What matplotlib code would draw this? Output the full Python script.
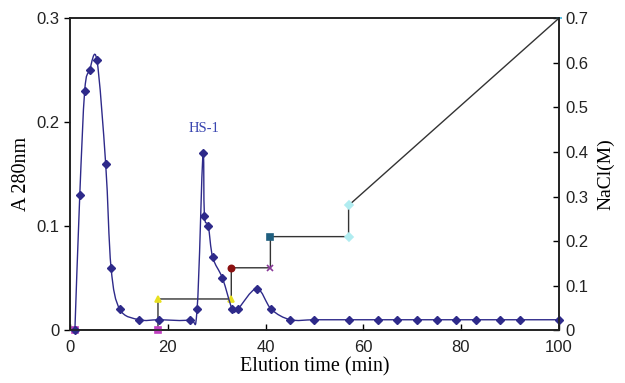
import numpy as np
import matplotlib
matplotlib.use('Agg')
import matplotlib.pyplot as plt
from matplotlib.path import Path
from matplotlib.patches import PathPatch

# Absorption bei 280 nm
t_abs = [1, 2, 3, 4, 5.5, 7.3, 8.4, 10.2, 14.2, 18.2, 24.5, 26, 27.2, 27.5, 28.3, 29.2, 31.2,
         33.2, 34.3, 38.2, 41.2, 45.1, 50, 57, 63, 67, 71, 75, 79, 83, 88, 92, 100]
a280 = [0.0, 0.13, 0.23, 0.25, 0.26, 0.16, 0.06, 0.02, 0.01, 0.01, 0.01, 0.02, 0.17, 0.11, 0.10,
        0.07, 0.05, 0.02, 0.02, 0.04, 0.02, 0.01, 0.01, 0.01, 0.01, 0.01, 0.01, 0.01, 0.01, 0.01,
        0.01, 0.01, 0.01]

# NaCl-Gradient (Stufen + linear)
t_salt = [1, 18, 18, 33, 33, 41, 41, 57, 57, 100]
nacl = [0.0, 0.0, 0.07, 0.07, 0.14, 0.14, 0.21, 0.21, 0.28, 0.70]

salt_marker = ['s', 's', '^', '^', 'o', 'x', 's', 'D', 'D', '_']
salt_color = ['#c040c0', '#c040c0', '#e8e020', '#e8e020', '#8b1010', '#8a3a9a', '#1f5f7f',
              '#b0ecf0', '#b0ecf0', '#40b8e0']

blue = '#2e2a8a'


def smooth_path(xs, ys):
    # Excel-artige Glaettung (Catmull-Rom als Bezier)
    pts = np.column_stack([xs, ys])
    verts = [pts[0]]
    codes = [Path.MOVETO]
    n = len(pts)
    for i in range(n - 1):
        p0 = pts[i - 1] if i > 0 else pts[i]
        p1 = pts[i]
        p2 = pts[i + 1]
        p3 = pts[i + 2] if i + 2 < n else pts[i + 1]
        c1 = p1 + (p2 - p0) / 6.0
        c2 = p2 - (p3 - p1) / 6.0
        verts += [c1, c2, p2]
        codes += [Path.CURVE4] * 3
    return Path(verts, codes)


fig, ax = plt.subplots(figsize=(6.25, 3.83), dpi=100)
fig.subplots_adjust(left=0.112, right=0.894, bottom=0.138, top=0.952)
ax2 = ax.twinx()

ax.set_zorder(ax2.get_zorder() + 1)
ax.patch.set_visible(False)

patch = PathPatch(smooth_path(t_abs, a280), facecolor='none', edgecolor=blue, lw=1.0)
ax.add_patch(patch)
ax.plot(t_abs, a280, linestyle='none', marker='D', color=blue, markersize=4.5, clip_on=False)

ax2.plot(t_salt, nacl, color='#333333', lw=1.0, zorder=2)
for xx, yy, mk, c in zip(t_salt, nacl, salt_marker, salt_color):
    ax2.plot(xx, yy, marker=mk, color=c, markersize=4.5, markeredgewidth=1.2,
             linestyle='none', clip_on=False, zorder=3)

ax.set_xlim(0, 100)
ax.set_ylim(0, 0.3)
ax2.set_ylim(0, 0.7)
ax.set_xticks([0, 20, 40, 60, 80, 100])
ax.set_yticks([0, 0.1, 0.2, 0.3])
ax.set_yticklabels(['0', '0.1', '0.2', '0.3'])
ax2.set_yticks([0, 0.1, 0.2, 0.3, 0.4, 0.5, 0.6, 0.7])
ax2.set_yticklabels(['0', '0.1', '0.2', '0.3', '0.4', '0.5', '0.6', '0.7'])

tickfont = 'Liberation Sans'
for lab in ax.get_xticklabels() + ax.get_yticklabels() + ax2.get_yticklabels():
    lab.set_fontfamily(tickfont)
    lab.set_fontsize(12)
    lab.set_color('#222222')

ax.tick_params(axis='x', direction='in', length=4, width=1, pad=7)
ax.tick_params(axis='y', direction='out', length=4, width=1)
ax2.tick_params(axis='y', direction='in', length=4, width=1, pad=5)
for a in (ax, ax2):
    for sp in a.spines.values():
        sp.set_linewidth(1.2)
        sp.set_color('#222222')

ax.set_xlabel('Elution time (min)', family='Liberation Serif', fontsize=14.5, labelpad=2)
ax.set_ylabel('A 280nm', family='Liberation Serif', fontsize=14.5, labelpad=4)
ax2.set_ylabel('NaCl(M)', family='Liberation Serif', fontsize=14, labelpad=6)

ax.text(27.5, 0.194, 'HS-1', family='Liberation Serif', fontsize=10.5, color='#3a46b0',
        ha='center', va='center')

plt.savefig('out.png', dpi=100)
